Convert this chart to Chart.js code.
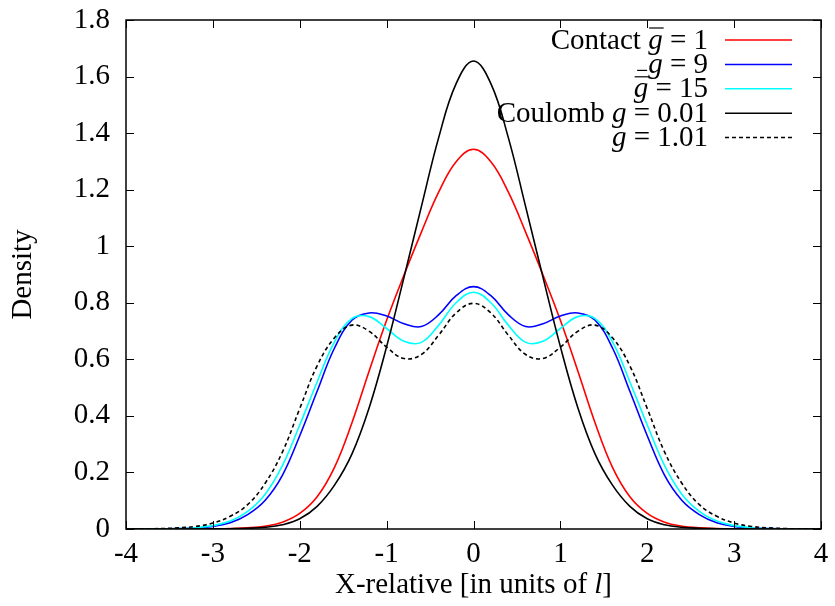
<!DOCTYPE html>
<html>
<head>
<meta charset="utf-8">
<script src="https://cdn.jsdelivr.net/npm/chart.js@4.4.1/dist/chart.umd.min.js"></script>
<style>
  html, body { margin: 0; padding: 0; background: #fff; }
  #wrap { width: 835px; height: 606px; }
</style>
</head>
<body>
<div id="wrap"><canvas id="densityChart" width="835" height="606"></canvas></div>
<script>
// sample positions along the relative coordinate
const xRel = [-4, -3.8, -3.6, -3.4, -3.2, -3, -2.8, -2.6, -2.4, -2.2, -2, -1.8, -1.6, -1.4, -1.2, -1, -0.8, -0.6, -0.4, -0.2,
  0, 0.2, 0.4, 0.6, 0.8, 1, 1.2, 1.4, 1.6, 1.8, 2, 2.2, 2.4, 2.6, 2.8, 3, 3.2, 3.4, 3.6, 3.8, 4];

// contact interaction
const contactG1 = [0, 0, 0, 0, 0.0002, 0.0005, 0.0015, 0.004, 0.010, 0.024, 0.055, 0.114, 0.218, 0.375, 0.560, 0.738, 0.898, 1.050, 1.192, 1.299,
  1.343, 1.299, 1.192, 1.050, 0.898, 0.738, 0.560, 0.375, 0.218, 0.114, 0.055, 0.024, 0.010, 0.004, 0.0015, 0.0005, 0.0002, 0, 0, 0, 0];
const contactG9 = [0, 0.0001, 0.0004, 0.0012, 0.0035, 0.009, 0.022, 0.051, 0.101, 0.190, 0.330, 0.487, 0.640, 0.738, 0.764, 0.753, 0.726, 0.716, 0.758, 0.825,
  0.857, 0.825, 0.758, 0.716, 0.726, 0.753, 0.764, 0.738, 0.640, 0.487, 0.330, 0.190, 0.101, 0.051, 0.022, 0.009, 0.0035, 0.0012, 0.0004, 0.0001, 0];
const contactG15 = [0, 0.0002, 0.0005, 0.0016, 0.0045, 0.012, 0.028, 0.062, 0.122, 0.224, 0.368, 0.520, 0.662, 0.744, 0.751, 0.709, 0.664, 0.660, 0.721, 0.800,
  0.837, 0.800, 0.721, 0.660, 0.664, 0.709, 0.751, 0.744, 0.662, 0.520, 0.368, 0.224, 0.122, 0.062, 0.028, 0.012, 0.0045, 0.0016, 0.0005, 0.0002, 0];

// coulomb interaction
const coulombG001 = [0, 0, 0, 0, 0.0001, 0.0003, 0.001, 0.0025, 0.006, 0.015, 0.036, 0.080, 0.155, 0.265, 0.430, 0.645, 0.890, 1.140, 1.385, 1.575,
  1.655, 1.575, 1.385, 1.140, 0.890, 0.645, 0.430, 0.265, 0.155, 0.080, 0.036, 0.015, 0.006, 0.0025, 0.001, 0.0003, 0.0001, 0, 0, 0, 0];
const coulombG101 = [0.0002, 0.0005, 0.0015, 0.004, 0.009, 0.021, 0.045, 0.086, 0.161, 0.272, 0.426, 0.577, 0.676, 0.721, 0.699, 0.643, 0.603, 0.617, 0.686, 0.764,
  0.798, 0.764, 0.686, 0.617, 0.603, 0.643, 0.699, 0.721, 0.676, 0.577, 0.426, 0.272, 0.161, 0.086, 0.045, 0.021, 0.009, 0.004, 0.0015, 0.0005, 0.0002];

// legend text, split so the coupling symbol can be set in italics
const legendParts = [
  [['Contact ', false], ['g', true], [' = 1', false]],
  [['g', true], [' = 9', false]],
  [['g', true], [' = 15', false]],
  [['Coulomb ', false], ['g', true], [' = 0.01', false]],
  [['g', true], [' = 1.01', false]]
];
const xTitleParts = [['X-relative [in units of ', false], ['l', true], [']', false]];
const yTitle = 'Density';

const FONT = '"Liberation Serif", "Times New Roman", serif';
const FSIZE = 29;

const series = [
  { values: contactG1, color: '#ff0000', dash: [] },
  { values: contactG9, color: '#0000ff', dash: [] },
  { values: contactG15, color: '#00ffff', dash: [] },
  { values: coulombG001, color: '#000000', dash: [] },
  { values: coulombG101, color: '#000000', dash: [4, 3] }
];

function setFont(ctx, italic) {
  ctx.font = (italic ? 'italic ' : '') + FSIZE + 'px ' + FONT;
}

// draws a row of mixed upright/italic text, right aligned at xr; returns x-ranges of italic pieces
function drawParts(ctx, parts, xr, y) {
  let total = 0;
  parts.forEach(([t, it]) => { setFont(ctx, it); total += ctx.measureText(t).width; });
  let x = xr - total;
  const spots = [];
  parts.forEach(([t, it]) => {
    setFont(ctx, it);
    const w = ctx.measureText(t).width;
    ctx.fillText(t, x, y);
    if (it) spots.push([x, x + w]);
    x += w;
  });
  return spots;
}

const frameAndLegend = {
  id: 'frameAndLegend',
  afterDraw(chart) {
    const { ctx, chartArea: a, scales: { x, y } } = chart;
    ctx.save();
    ctx.strokeStyle = '#000';
    ctx.lineWidth = 1.5;
    ctx.strokeRect(a.left, a.top, a.right - a.left, a.bottom - a.top);

    // inward tick marks on all four sides
    ctx.lineWidth = 1;
    ctx.beginPath();
    x.ticks.forEach(t => {
      const px = Math.round(x.getPixelForValue(t.value)) + 0.5;
      ctx.moveTo(px, a.bottom); ctx.lineTo(px, a.bottom - 8);
      ctx.moveTo(px, a.top); ctx.lineTo(px, a.top + 8);
    });
    y.ticks.forEach(t => {
      const py = Math.round(y.getPixelForValue(t.value)) + 0.5;
      ctx.moveTo(a.left, py); ctx.lineTo(a.left + 8, py);
      ctx.moveTo(a.right, py); ctx.lineTo(a.right - 8, py);
    });
    ctx.stroke();

    // x axis title
    ctx.fillStyle = '#000';
    ctx.textBaseline = 'middle';
    let tw = 0;
    xTitleParts.forEach(([t, it]) => { setFont(ctx, it); tw += ctx.measureText(t).width; });
    drawParts(ctx, xTitleParts, (a.left + a.right) / 2 + tw / 2, 585);

    // key in the top right corner
    const textRight = 708, lineL = 725, lineR = 792;
    legendParts.forEach((parts, i) => {
      const ry = 40 + i * 24.4;
      const spots = drawParts(ctx, parts, textRight, ry + 1);
      const g = spots[0];
      ctx.lineWidth = 1.2;
      ctx.setLineDash([]);
      ctx.beginPath();
      if (i === 0 || i === 2) {
        ctx.moveTo(g[0] + 1, ry - 12); ctx.lineTo(g[1] + 1, ry - 12);
      } else if (i === 1) {
        ctx.moveTo(g[0] - 11, ry + 6); ctx.lineTo(g[0] - 1, ry + 6);
      }
      ctx.stroke();

      const s = series[i];
      ctx.strokeStyle = s.color;
      ctx.lineWidth = 1.5;
      ctx.setLineDash(s.dash);
      ctx.beginPath();
      ctx.moveTo(lineL, ry); ctx.lineTo(lineR, ry);
      ctx.stroke();
      ctx.strokeStyle = '#000';
    });
    ctx.restore();
  }
};

const tickFont = { family: FONT, size: FSIZE };

new Chart(document.getElementById('densityChart'), {
  type: 'line',
  data: {
    datasets: series.map((s, i) => ({
      data: xRel.map((xv, k) => ({ x: xv, y: s.values[k] })),
      borderColor: s.color,
      borderDash: s.dash,
      borderWidth: 1.6,
      pointRadius: 0,
      fill: false,
      tension: 0.4,
      order: series.length - i
    }))
  },
  options: {
    responsive: false,
    animation: false,
    events: [],
    layout: { padding: { top: 20, right: 14, left: 0, bottom: 0 } },
    plugins: { legend: { display: false }, tooltip: { enabled: false } },
    scales: {
      x: {
        type: 'linear', min: -4, max: 4,
        ticks: { stepSize: 1, font: tickFont, color: '#000', padding: 0, maxRotation: 0 },
        grid: { display: false },
        border: { display: false },
        afterFit: s => { s.height = 77; }
      },
      y: {
        type: 'linear', min: 0, max: 1.8,
        ticks: {
          stepSize: 0.2, font: tickFont, color: '#000', padding: 8,
          callback: v => String(Math.round(v * 10) / 10)
        },
        grid: { display: false },
        border: { display: false },
        title: { display: true, text: yTitle, font: tickFont, color: '#000', padding: { top: 6, bottom: 0 } },
        afterFit: s => { s.width = 126; s.paddingTop = 0; s.paddingBottom = 0; }
      }
    }
  },
  plugins: [frameAndLegend]
});
</script>
</body>
</html>
